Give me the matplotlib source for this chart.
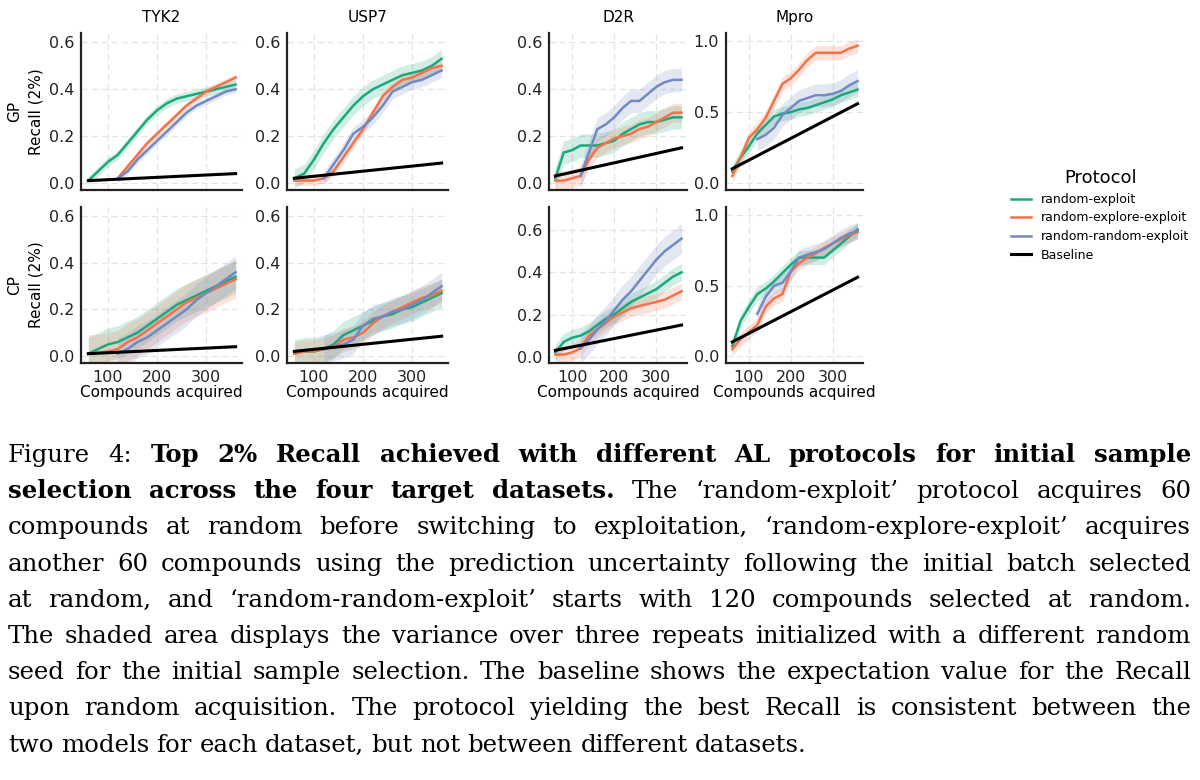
import numpy as np
import matplotlib
matplotlib.use("Agg")
import matplotlib.pyplot as plt

nan = np.nan
x = [60, 80, 100, 120, 140, 160, 180, 200, 220, 240, 260, 280, 300, 320, 340, 360]
x_base = [60, 360]
targets = ["TYK2", "USP7", "D2R", "Mpro"]
models = ["GP", "CP"]
protocols = ["random-exploit", "random-explore-exploit", "random-random-exploit"]
colors = ["#1aa97d", "#f4724a", "#7389c2"]

# GP row
gp_green = {
 "TYK2": [0.01,0.05,0.09,0.12,0.17,0.22,0.27,0.31,0.34,0.36,0.37,0.38,0.39,0.40,0.41,0.42],
 "USP7": [0.02,0.04,0.10,0.17,0.23,0.28,0.33,0.37,0.40,0.42,0.44,0.46,0.47,0.48,0.50,0.53],
 "D2R":  [0.02,0.13,0.14,0.16,0.16,0.16,0.17,0.18,0.21,0.23,0.25,0.26,0.26,0.27,0.28,0.28],
 "Mpro": [0.08,0.18,0.26,0.35,0.41,0.47,0.49,0.50,0.52,0.53,0.55,0.57,0.59,0.62,0.64,0.66]}
gp_orange = {
 "TYK2": [nan,nan,nan,0.02,0.07,0.12,0.17,0.21,0.25,0.29,0.33,0.36,0.39,0.41,0.43,0.45],
 "USP7": [0.01,0.01,0.01,0.02,0.05,0.11,0.17,0.23,0.30,0.37,0.41,0.44,0.45,0.47,0.49,0.50],
 "D2R":  [0.01,0.01,0.02,0.03,0.10,0.15,0.17,0.19,0.20,0.21,0.23,0.24,0.26,0.28,0.30,0.30],
 "Mpro": [0.05,0.18,0.32,0.38,0.46,0.58,0.70,0.74,0.80,0.87,0.92,0.92,0.92,0.92,0.95,0.97]}
gp_blue = {
 "TYK2": [nan,nan,nan,0.02,0.05,0.10,0.14,0.18,0.22,0.26,0.30,0.33,0.35,0.37,0.39,0.40],
 "USP7": [nan,nan,nan,0.02,0.08,0.14,0.21,0.24,0.28,0.33,0.39,0.41,0.43,0.44,0.46,0.48],
 "D2R":  [nan,nan,nan,0.03,0.13,0.23,0.25,0.28,0.32,0.35,0.35,0.38,0.41,0.43,0.44,0.44],
 "Mpro": [nan,nan,nan,0.31,0.34,0.39,0.48,0.53,0.58,0.60,0.62,0.62,0.63,0.65,0.69,0.72]}
# CP row
cp_green = {
 "TYK2": [0.01,0.03,0.05,0.06,0.08,0.10,0.13,0.16,0.19,0.22,0.24,0.26,0.28,0.30,0.32,0.34],
 "USP7": [0.01,0.02,0.02,0.03,0.05,0.09,0.11,0.13,0.15,0.17,0.18,0.20,0.21,0.23,0.25,0.27],
 "D2R":  [0.02,0.07,0.09,0.10,0.12,0.15,0.18,0.20,0.23,0.26,0.28,0.30,0.32,0.35,0.38,0.40],
 "Mpro": [0.07,0.25,0.35,0.44,0.48,0.53,0.59,0.65,0.70,0.70,0.70,0.70,0.75,0.80,0.85,0.90]}
cp_orange = {
 "TYK2": [0.01,0.015,0.02,0.03,0.06,0.08,0.11,0.14,0.17,0.20,0.23,0.25,0.27,0.29,0.31,0.33],
 "USP7": [0.01,0.02,0.02,0.03,0.04,0.07,0.08,0.10,0.14,0.17,0.19,0.21,0.23,0.25,0.26,0.28],
 "D2R":  [0.01,0.01,0.02,0.04,0.10,0.13,0.16,0.19,0.21,0.23,0.24,0.25,0.26,0.27,0.29,0.31],
 "Mpro": [0.05,0.12,0.17,0.22,0.35,0.41,0.44,0.60,0.66,0.70,0.73,0.77,0.80,0.83,0.86,0.88]}
cp_blue = {
 "TYK2": [nan,nan,nan,0.01,0.03,0.06,0.08,0.11,0.14,0.17,0.20,0.24,0.27,0.30,0.33,0.36],
 "USP7": [nan,nan,nan,0.03,0.04,0.05,0.07,0.13,0.16,0.17,0.19,0.20,0.22,0.24,0.27,0.30],
 "D2R":  [nan,nan,nan,0.04,0.08,0.13,0.17,0.22,0.27,0.31,0.36,0.41,0.46,0.50,0.53,0.56],
 "Mpro": [nan,nan,nan,0.30,0.42,0.50,0.52,0.60,0.70,0.72,0.74,0.76,0.80,0.84,0.87,0.89]}
# half-width of shaded band (green, orange, blue)
gp_band = {"TYK2": [0.02, 0.015, 0.015], "USP7": [0.04, 0.02, 0.03],
           "D2R": [0.05, 0.04, 0.05], "Mpro": [0.05, 0.05, 0.08]}
cp_band = {"TYK2": [0.07, 0.08, 0.07], "USP7": [0.06, 0.05, 0.06],
           "D2R": [0.04, 0.04, 0.07], "Mpro": [0.05, 0.05, 0.06]}
baseline = {"TYK2": [0.01, 0.04], "USP7": [0.02, 0.085], "D2R": [0.03, 0.15], "Mpro": [0.10, 0.56]}

ylims = {("GP", "TYK2"): (-0.03, 0.64), ("GP", "USP7"): (-0.03, 0.64), ("GP", "D2R"): (-0.03, 0.64),
         ("GP", "Mpro"): (-0.05, 1.06), ("CP", "TYK2"): (-0.03, 0.64), ("CP", "USP7"): (-0.03, 0.64),
         ("CP", "D2R"): (-0.03, 0.71), ("CP", "Mpro"): (-0.05, 1.06)}

W, H = 1200, 780
fig = plt.figure(figsize=(12, 7.8), dpi=100)
col_x = [(81, 242), (287, 448), (549, 687), (726, 863)]
row_y = [(33, 190), (207, 363)]
data = {"GP": (gp_green, gp_orange, gp_blue, gp_band), "CP": (cp_green, cp_orange, cp_blue, cp_band)}
handles = []
for r, m in enumerate(models):
    for c, t in enumerate(targets):
        x0, x1 = col_x[c]; y0, y1 = row_y[r]
        ax = fig.add_axes([x0 / W, 1 - y1 / H, (x1 - x0) / W, (y1 - y0) / H])
        g, o, b, band = data[m]
        for i, series in enumerate([g[t], o[t], b[t]]):
            ys = np.array(series, dtype=float)
            ax.fill_between(x, ys - band[t][i], ys + band[t][i], color=colors[i], alpha=0.2, lw=0)
            ln, = ax.plot(x, ys, color=colors[i], lw=1.8, label=protocols[i])
            if r == 0 and c == 0:
                handles.append(ln)
        bl, = ax.plot(x_base, baseline[t], color="black", lw=2.2, label="Baseline")
        if r == 0 and c == 0:
            handles.append(bl)
        ax.set_xlim(45, 373)
        ax.set_ylim(*ylims[(m, t)])
        ax.set_xticks([100, 200, 300])
        if t == "Mpro":
            ax.set_yticks([0.0, 0.5, 1.0])
        else:
            ax.set_yticks([0.0, 0.2, 0.4, 0.6])
        ax.grid(True, ls=(0, (5, 3)), color="#e3e3e3", lw=0.9)
        ax.set_axisbelow(True)
        for s in ["top", "right"]:
            ax.spines[s].set_visible(False)
        for s in ["left", "bottom"]:
            ax.spines[s].set_linewidth(1.6)
            ax.spines[s].set_color("#222222")
        ax.tick_params(labelsize=11.5, length=0, pad=5, colors="#222222")
        if r == 0:
            ax.set_title(t, fontsize=11, pad=8)
            ax.tick_params(labelbottom=False)
        else:
            ax.set_xlabel("Compounds acquired", fontsize=11, labelpad=0)
        if c == 0:
            ax.set_ylabel(m + "\nRecall (2%)", fontsize=11, linespacing=1.5)

leg = fig.legend(handles=handles, labels=protocols + ["Baseline"], loc="upper left",
                 bbox_to_anchor=(1000 / W, 1 - 158 / H), frameon=False, fontsize=9,
                 title="Protocol", title_fontsize=13, handlelength=1.6, labelspacing=0.45)

# caption
lines = [
    [("Figure 4:", False), ("Top 2% Recall achieved with different AL protocols for initial sample", True)],
    [("selection across the four target datasets.", True), ("The ‘random-exploit’ protocol acquires 60", False)],
    [("compounds at random before switching to exploitation, ‘random-explore-exploit’ acquires", False)],
    [("another 60 compounds using the prediction uncertainty following the initial batch selected", False)],
    [("at random, and ‘random-random-exploit’ starts with 120 compounds selected at random.", False)],
    [("The shaded area displays the variance over three repeats initialized with a different random", False)],
    [("seed for the initial sample selection. The baseline shows the expectation value for the Recall", False)],
    [("upon random acquisition. The protocol yielding the best Recall is consistent between the", False)],
    [("two models for each dataset, but not between different datasets.", False)],
]
renderer = fig.canvas.get_renderer()
left, right = 8, 1191
fs = 17.6
for li, segs in enumerate(lines):
    words = []
    for s, bold in segs:
        for w in s.split(" "):
            words.append((w, bold))
    yb = 1 - (462 + li * 36.2) / H
    texts = []
    for w, bold in words:
        tx = fig.text(0, yb, w, fontsize=fs, family="DejaVu Serif",
                      weight="bold" if bold else "normal", va="baseline", ha="left")
        texts.append(tx)
    widths = [tx.get_window_extent(renderer).width for tx in texts]
    total = sum(widths)
    if li < len(lines) - 1:
        gap = max((right - left - total) / (len(words) - 1), 3)
    else:
        gap = fs * 0.42
    pos = left
    for tx, wd in zip(texts, widths):
        tx.set_x(pos / W)
        pos += wd + gap

fig.savefig("out.png", dpi=100)
